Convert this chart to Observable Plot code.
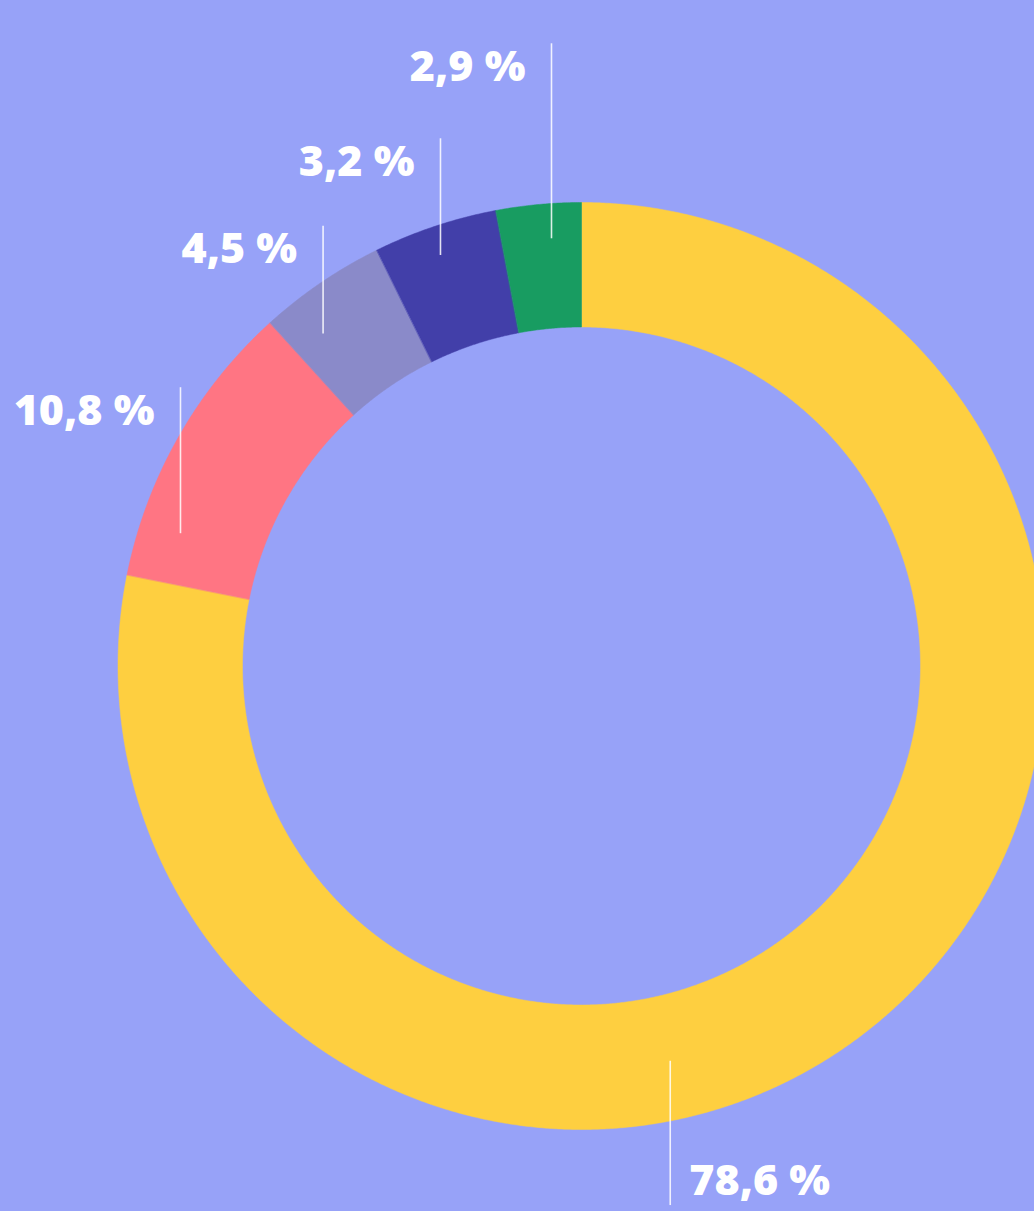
<!DOCTYPE html>
<html>
<head>
<meta charset="utf-8">
<script src="https://cdn.jsdelivr.net/npm/d3@7"></script>
<script src="https://cdn.jsdelivr.net/npm/@observablehq/plot@0.6"></script>
<style>
  html, body { margin: 0; padding: 0; background: #97a2f8; }
  #chart { width: 1034px; height: 1211px; overflow: hidden; }
  svg { display: block; }
</style>
</head>
<body>
<div id="chart"></div>
<script>
// ---- data ----
const categories = ["A", "B", "C", "D", "E"];
// share of the ring (percent), going clockwise from 12 o'clock
const shares = [78.15, 10.12, 4.45, 4.32, 2.96];
// printed labels
const labels = ["78,6 %", "10,8 %", "4,5 %", "3,2 %", "2,9 %"];

// ---- styling / layout ----
const colors = ["#fecf40", "#ff7583", "#8a8ac9", "#423fa9", "#189c61"];
const background = "#97a2f8";
const W = 1034, H = 1211;
const cx = 581.5, cy = 666;          // donut centre in pixels
const R = 463.5, r = 339;            // outer / inner radius
// leader lines: angle (deg clockwise from top), anchor radius, length, direction
const leaderAngle = [167.4, 288.3, 322.1, 341.0, 355.92];
const leaderRadius = [404.5, 422.9, 421.5, 434.7, 428.8];
const leaderLength = [144.3, 146, 107.6, 116.7, 195];
const leaderUp = [false, true, true, true, true];

// ---- build ring segments ----
const rad = d => d * Math.PI / 180;
const ring = [];
let cum = 0;
shares.forEach((s, i) => {
  const a0 = cum / 100 * 360, a1 = (cum + s) / 100 * 360;
  const n = Math.max(2, Math.ceil((a1 - a0) / 0.25));
  for (let k = 0; k <= n; k++) {
    const a = rad(a0 + (a1 - a0) * k / n);
    ring.push({
      cat: categories[i],
      xo: R * Math.sin(a), yo: R * Math.cos(a),
      xi: r * Math.sin(a), yi: r * Math.cos(a)
    });
  }
  cum += s;
});

// ---- leaders & labels ----
const leaders = labels.map((label, i) => {
  const a = rad(leaderAngle[i]);
  const x = leaderRadius[i] * Math.sin(a);
  const yA = leaderRadius[i] * Math.cos(a);
  const yB = leaderUp[i] ? yA + leaderLength[i] : yA - leaderLength[i];
  const top = Math.max(yA, yB), bottom = Math.min(yA, yB);
  return {
    label, x, top, bottom, up: leaderUp[i],
    tx: leaderUp[i] ? x - 26 : x + 19,
    ty: leaderUp[i] ? top - 37 : bottom + 11
  };
});

const textStyle = {
  x: "tx", y: "ty", text: "label",
  lineAnchor: "bottom",
  fill: "white",
  fontSize: 43,
  fontWeight: 800,
  fontFamily: "'Open Sans', sans-serif"
};

const chart = Plot.plot({
  width: W,
  height: H,
  margin: 0,
  x: { domain: [-cx, W - cx], range: [0, W], axis: null },
  y: { domain: [-(H - cy), cy], range: [H, 0], axis: null },
  color: { domain: categories, range: colors },
  style: { background, overflow: "hidden" },
  marks: [
    Plot.area(ring, {
      x1: "xo", y1: "yo", x2: "xi", y2: "yi",
      z: "cat", fill: "cat", stroke: "cat", strokeWidth: 0.5
    }),
    Plot.ruleX(leaders, {
      x: "x", y1: "bottom", y2: "top",
      stroke: "white", strokeWidth: 1.6, strokeOpacity: 0.85
    }),
    Plot.text(leaders.filter(d => d.up), { ...textStyle, textAnchor: "end" }),
    Plot.text(leaders.filter(d => !d.up), { ...textStyle, textAnchor: "start" })
  ]
});
document.getElementById("chart").appendChild(chart);
</script>
</body>
</html>
